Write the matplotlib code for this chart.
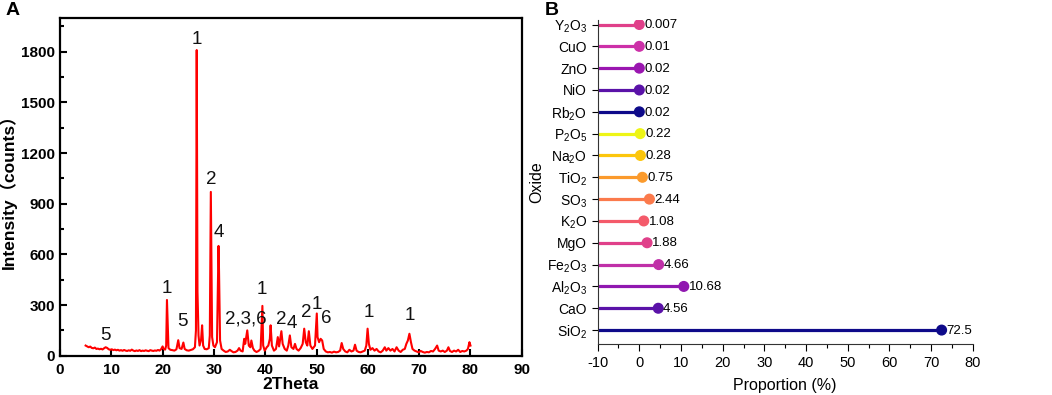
import matplotlib
matplotlib.use('Agg')
import matplotlib.pyplot as plt
from matplotlib.ticker import MultipleLocator

plt.rcParams['font.family'] = ['Liberation Sans', 'Noto Sans CJK SC', 'DejaVu Sans']
plt.rcParams['mathtext.fontset'] = 'custom'
plt.rcParams['mathtext.rm'] = 'Liberation Sans'
plt.rcParams['mathtext.it'] = 'Liberation Sans:italic'
plt.rcParams['mathtext.bf'] = 'Liberation Sans:bold'
plt.rcParams['axes.unicode_minus'] = False

# ---- panel A: XRD pattern ----
two_theta = [5.0, 5.3, 5.6, 5.9, 6.2, 6.5, 6.8, 7.1, 7.4, 7.7, 8.0, 8.3, 8.6, 8.9, 9.2, 9.5, 9.8,
             10.1, 10.4, 10.7, 11.0, 11.3, 11.6, 11.9, 12.2, 12.5, 12.8, 13.1, 13.4, 13.7, 14.0,
             14.3, 14.6, 14.9, 15.2, 15.5, 15.8, 16.1, 16.4, 16.7, 17.0, 17.3, 17.6, 17.9, 18.2,
             18.5, 18.8, 19.1, 19.4, 19.7, 20.0, 20.2, 20.5, 20.7, 20.85, 21.0, 21.15, 21.5, 21.9,
             22.3, 22.7, 23.05, 23.3, 23.7, 24.05, 24.3, 24.7, 25.1, 25.5, 25.9, 26.3, 26.5, 26.6,
             26.65, 26.8, 27.0, 27.2, 27.5, 27.7, 27.9, 28.2, 28.6, 29.0, 29.2, 29.4, 29.5, 29.65,
             29.9, 30.2, 30.6, 30.9, 31.0, 31.2, 31.5, 31.9, 32.3, 32.7, 33.1, 33.4, 33.8, 34.2,
             34.6, 34.9, 35.2, 35.6, 35.9, 36.1, 36.5, 36.8, 37.1, 37.3, 37.6, 37.9, 38.3, 38.7,
             39.1, 39.45, 39.6, 39.9, 40.3, 40.6, 40.9, 41.05, 41.3, 41.7, 42.1, 42.45, 42.7,
             43.15, 43.4, 43.8, 44.2, 44.5, 44.8, 45.1, 45.5, 45.8, 46.1, 46.5, 46.9, 47.3, 47.6,
             47.9, 48.2, 48.5, 48.8, 49.2, 49.7, 50.05, 50.2, 50.5, 50.8, 51.1, 51.4, 51.8, 52.2,
             52.6, 53.0, 53.4, 53.8, 54.2, 54.6, 54.9, 55.2, 55.6, 56.0, 56.4, 56.8, 57.2, 57.5,
             57.8, 58.2, 58.6, 59.0, 59.4, 59.7, 59.95, 60.2, 60.5, 60.9, 61.3, 61.7, 62.1, 62.5,
             62.9, 63.3, 63.6, 64.0, 64.4, 64.8, 65.2, 65.6, 66.0, 66.4, 66.8, 67.2, 67.5, 67.8,
             68.1, 68.4, 68.7, 69.1, 69.5, 69.9, 70.3, 70.7, 71.1, 71.5, 71.9, 72.3, 72.7, 73.1,
             73.5, 73.8, 74.2, 74.6, 75.0, 75.4, 75.7, 76.0, 76.4, 76.8, 77.2, 77.6, 78.0, 78.4,
             78.8, 79.2, 79.5, 79.8, 80.0]
counts = [60, 55, 50, 54, 46, 44, 48, 40, 42, 38, 41, 37, 44, 50, 46, 38, 35,
          38, 33, 36, 32, 35, 30, 33, 29, 34, 30, 28, 32, 29, 36,
          30, 27, 31, 28, 33, 27, 30, 28, 32, 29, 27, 33, 30, 28,
          31, 29, 34, 30, 38, 55, 40, 36, 60, 330, 190, 45, 35, 33,
          30, 38, 92, 45, 40, 78, 40, 32, 30, 34, 38, 50, 150, 1440,
          1810, 380, 120, 60, 95, 180, 60, 40, 38, 45, 120, 970, 645, 110,
          60, 50, 80, 650, 500, 90, 40, 30, 22, 25, 35, 28, 20, 22,
          30, 45, 30, 25, 100, 70, 150, 60, 50, 90, 45, 30, 22, 28,
          40, 295, 60, 30, 50, 60, 100, 180, 60, 30, 40, 110, 55,
          145, 70, 40, 30, 60, 120, 50, 40, 70, 40, 30, 45, 70, 160,
          80, 60, 145, 60, 40, 60, 250, 110, 80, 100, 90, 40, 25, 20,
          22, 18, 24, 20, 22, 30, 75, 40, 25, 20, 35, 25, 30, 65,
          30, 22, 20, 25, 30, 60, 160, 70, 35, 45, 30, 40, 25, 20,
          30, 50, 30, 45, 30, 40, 25, 50, 30, 22, 35, 40, 70, 90,
          130, 80, 40, 30, 25, 20, 28, 22, 18, 22, 20, 28, 25, 40,
          60, 30, 25, 30, 22, 30, 50, 28, 22, 30, 25, 35, 22, 28,
          25, 30, 40, 80, 60]

peak_labels = ['5', '1', '5', '1', '2', '4', '2,3,6', '1', '2', '4', '2', '1', '6', '1', '1']
peak_x = [8.9, 20.9, 23.8, 26.6, 29.4, 31.0, 36.3, 39.4, 43.1, 45.2, 48.0, 50.0, 51.8, 60.1, 68.2]
peak_y = [122, 400, 205, 1873, 1044, 730, 215, 393, 215, 188, 257, 306, 221, 255, 241]

# ---- panel B: oxide composition ----
oxides = ['SiO$_2$', 'CaO', 'Al$_2$O$_3$', 'Fe$_2$O$_3$', 'MgO', 'K$_2$O', 'SO$_3$', 'TiO$_2$',
          'Na$_2$O', 'P$_2$O$_5$', 'Rb$_2$O', 'NiO', 'ZnO', 'CuO', 'Y$_2$O$_3$']
proportion = [72.5, 4.56, 10.68, 4.66, 1.88, 1.08, 2.44, 0.75, 0.28, 0.22, 0.02, 0.02, 0.02, 0.01, 0.007]
value_text = ['72.5', '4.56', '10.68', '4.66', '1.88', '1.08', '2.44', '0.75', '0.28', '0.22',
              '0.02', '0.02', '0.02', '0.01', '0.007']
oxide_colors = ['#0e0a8a', '#5a12a8', '#9018b0', '#c030a8', '#e0408a', '#f45a6a', '#fb7a4c',
                '#fb9a2c', '#fcc60c', '#eef516', '#0e0a8a', '#5a12a8', '#9a16b0', '#cc30a8', '#e0408a']

fig = plt.figure(figsize=(10.52, 3.95), dpi=100)

# panel A
axA = fig.add_axes([0.057, 0.0995, 0.439, 0.855])
axA.plot(two_theta, counts, color='#ff0000', lw=1.5)
for t, x, y in zip(peak_labels, peak_x, peak_y):
    axA.text(x, y, t, ha='center', va='center', fontsize=13.5, color='#111111')
axA.set_xlim(0, 90)
axA.set_ylim(0, 2000)
axA.xaxis.set_major_locator(MultipleLocator(10))
axA.yaxis.set_minor_locator(MultipleLocator(150))
axA.set_yticks([0, 300, 600, 900, 1200, 1500, 1800])
axA.tick_params(direction='in', width=1.5, length=5, labelsize=11)
axA.tick_params(which='minor', direction='in', width=1.5, length=3)
axA.tick_params(axis='x', pad=5)
for lab in axA.get_xticklabels() + axA.get_yticklabels():
    lab.set_fontweight('bold')
for s in axA.spines.values():
    s.set_linewidth(1.6)
axA.set_xlabel('2Theta', fontsize=12.5, fontweight='bold', labelpad=0)
axA.set_ylabel('Intensity（counts）', fontsize=12.5, fontweight='bold', labelpad=3)
fig.text(0.005, 0.995, 'A', fontsize=14, fontweight='bold', va='top', ha='left')

# panel B
axB = fig.add_axes([0.568, 0.129, 0.3568, 0.820])
ypos = list(range(len(oxides)))
axB.hlines(ypos, -10, proportion, colors=oxide_colors, lw=2.3)
axB.scatter(proportion, ypos, c=oxide_colors, s=48, zorder=3)
for v, y, t in zip(proportion, ypos, value_text):
    axB.annotate(t, (v, y), xytext=(3.5, -0.5), textcoords='offset points',
                 va='center', ha='left', fontsize=9.5)
axB.set_yticks(ypos)
axB.set_yticklabels(oxides, fontsize=10)
axB.set_xlim(-10, 80)
axB.set_ylim(-0.64, 14.2)
axB.xaxis.set_major_locator(MultipleLocator(10))
axB.xaxis.set_minor_locator(MultipleLocator(5))
axB.tick_params(axis='x', labelsize=10.5, length=5, width=0.8)
axB.tick_params(axis='x', which='minor', length=3, width=0.8)
axB.tick_params(axis='y', length=4, width=0.8)
axB.spines['top'].set_visible(False)
axB.spines['right'].set_visible(False)
for s in ['left', 'bottom']:
    axB.spines[s].set_linewidth(0.8)
    axB.spines[s].set_color('#333333')
axB.set_xlabel('Proportion (%)', fontsize=11.5, labelpad=6)
axB.set_ylabel('Oxide', fontsize=11.5, labelpad=2)
fig.text(0.518, 0.995, 'B', fontsize=14, fontweight='bold', va='top', ha='left')

fig.savefig('out.png', dpi=100)
